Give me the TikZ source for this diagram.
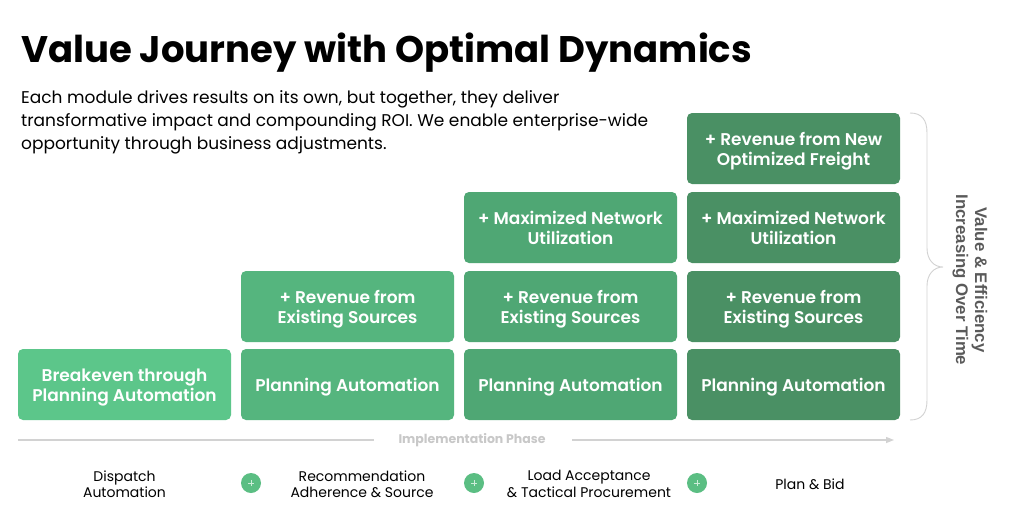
\documentclass[tikz,border=0pt]{standalone}
\usepackage{fontspec}
\setmainfont{Poppins}
\newfontfamily\psemi{Poppins SemiBold}
\newfontfamily\arialb{Liberation Sans Bold}
\usetikzlibrary{arrows.meta}
\definecolor{gA}{HTML}{5CC68A}
\definecolor{gB}{HTML}{55B57E}
\definecolor{gC}{HTML}{4FA774}
\definecolor{gD}{HTML}{4A9064}
\definecolor{plusg}{HTML}{5BBE83}
\definecolor{lgray}{HTML}{D2D2D2}
\definecolor{tgray}{HTML}{C8C8C8}
\definecolor{rgray}{HTML}{5A5A5A}
\tikzset{
  card/.style={minimum width=213pt, minimum height=71pt,
    inner sep=0pt, align=center, text=white,
    font=\psemi\fontsize{17}{20}\selectfont},
  lbl/.style={align=center, font=\fontsize{14}{16.5}\selectfont, text=black},
  pluscirc/.style={circle, fill=plusg, minimum size=20pt, inner sep=0pt},
}
\begin{document}
\begin{tikzpicture}[x=1pt,y=-1pt]
\useasboundingbox[fill=white] (0,0) rectangle (1010,512);
% title
\node[anchor=base west, inner sep=0pt, font=\bfseries\fontsize{37}{44}\selectfont] (title) at (21,62) {Value Journey with Optimal Dynamics};
\node[anchor=base west, inner sep=0pt, align=left, font=\fontsize{17}{23}\selectfont] (sub) at (21,149)
  {Each module drives results on its own, but together, they deliver\\transformative impact and compounding ROI. We enable enterprise-wide\\opportunity through business adjustments.};
% cards: boxes at exact places, text nudged to the optical centre
\foreach \nm/\cx/\cy/\col/\dy/\txt in {
  a1/124.5/384.5/gA/3/{Breakeven through\\Planning Automation},
  b1/347.5/384.5/gB/3/{Planning Automation},
  b2/347.5/306.5/gB/3/{+ Revenue from\\Existing Sources},
  c1/570.5/384.5/gC/3/{Planning Automation},
  c2/570.5/306.5/gC/3/{+ Revenue from\\Existing Sources},
  c3/570.5/227.5/gC/0/{+ Maximized Network\\Utilization},
  d1/793.5/384.5/gD/3/{Planning Automation},
  d2/793.5/306.5/gD/3/{+ Revenue from\\Existing Sources},
  d3/793.5/227.5/gD/0/{+ Maximized Network\\Utilization},
  d4/793.5/148.5/gD/3/{+ Revenue from New\\Optimized Freight}}{
  \fill[\col, rounded corners=5pt] (\cx-106.5,\cy-35.5) rectangle (\cx+106.5,\cy+35.5);
  \node[card] (\nm) at (\cx,\cy+\dy) {\txt};
}
% brace
\coordinate (bt) at (910,113);
\coordinate (bb) at (910,420);
\coordinate (tip) at (943,267);
\draw[lgray, line width=0.9pt] (bt) .. controls (922,113) and (927,120) .. (927,133)
  -- (927,248) .. controls (927,260) and (934,267) .. (tip)
  .. controls (934,267) and (927,274) .. (927,286)
  -- (927,400) .. controls (927,413) and (922,420) .. (bb);
\node[rotate=-90, align=center, text=rgray, font=\arialb\fontsize{16.8}{19}\selectfont] (vert) at (970,280)
  {Value \& Efficiency\\Increasing Over Time};
% implementation phase
\node[text=tgray, font=\bfseries\fontsize{12.5}{14}\selectfont, inner sep=0pt] (impl) at (472,440) {Implementation Phase};
\coordinate (il) at (18,440);
\coordinate (ir) at (894,440);
\draw[lgray, line width=1.3pt] (il) -- (374,440);
\draw[lgray, line width=1.3pt, -{Triangle[length=8pt,width=6pt]}] (572,440) -- (ir);
% bottom labels
\node[lbl] (m1) at (124.5,484) {Dispatch\\Automation};
\node[pluscirc] (p1) at (251,483) {};
\node[lbl] (m2) at (362,484) {Recommendation\\Adherence \& Source};
\node[pluscirc] (p2) at (474,483) {};
\node[lbl] (m3) at (589,484) {Load Acceptance\\\& Tactical Procurement};
\node[pluscirc] (p3) at (697,483) {};
\node[lbl] (m4) at (810,484) {Plan \& Bid};
\foreach \p in {p1,p2,p3}{
  \draw[white!70!plusg, line width=0.8pt] ([xshift=-3pt]\p.center) -- ([xshift=3pt]\p.center);
  \draw[white!70!plusg, line width=0.8pt] ([yshift=-3pt]\p.center) -- ([yshift=3pt]\p.center);
}
\end{tikzpicture}
\end{document}
